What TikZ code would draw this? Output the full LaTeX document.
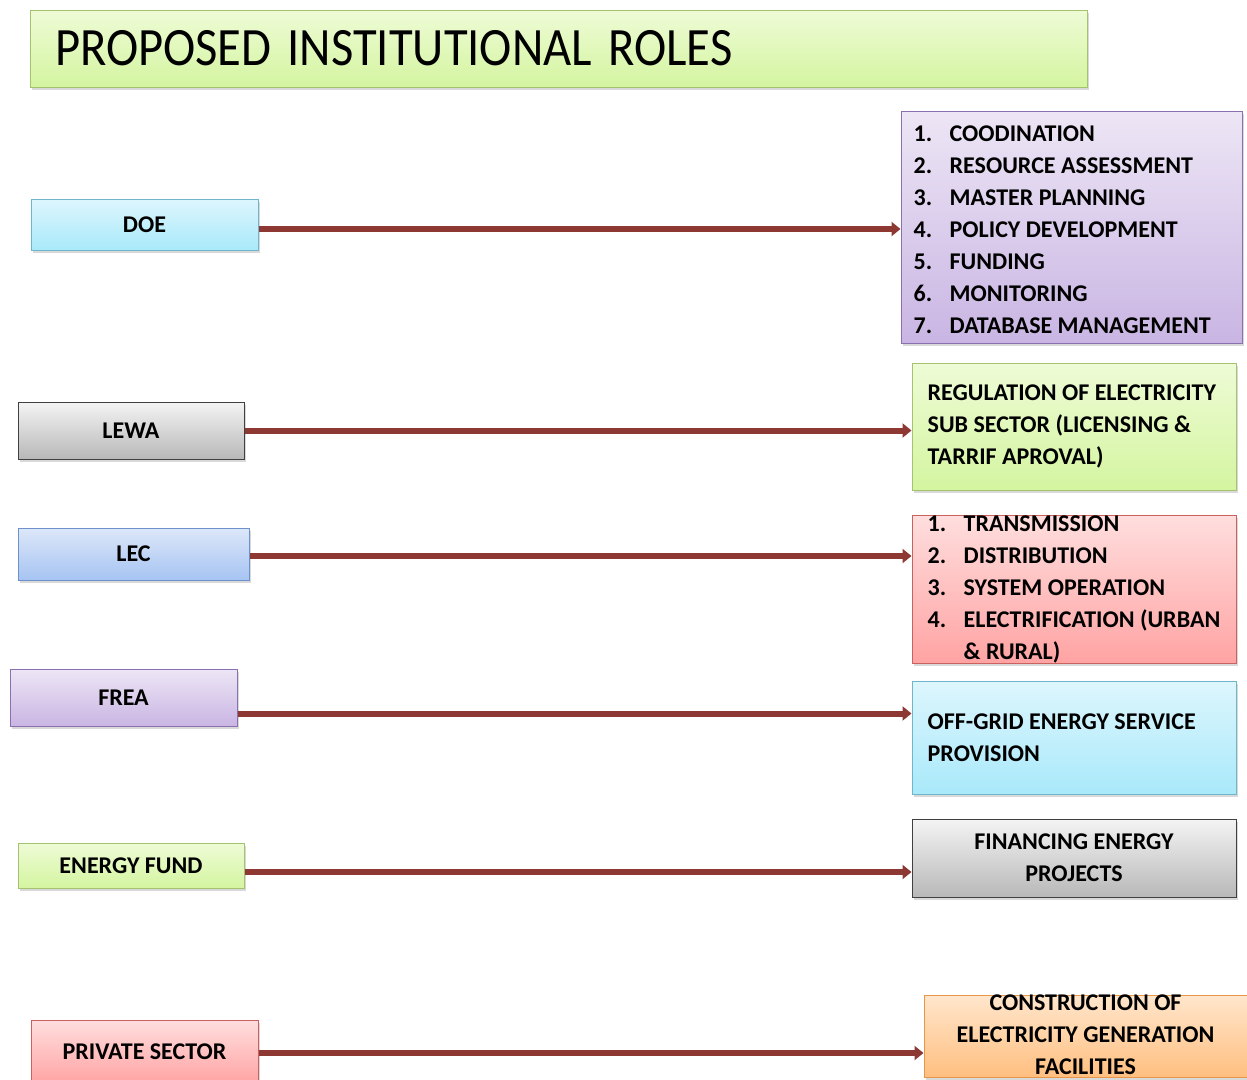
\documentclass[tikz,border=0pt]{standalone}
\usepackage{fontspec}
\setmainfont{Carlito}
\usetikzlibrary{arrows.meta,shadows,positioning}

\definecolor{linkred}{RGB}{142,56,52}
\definecolor{greentop}{HTML}{EEFBD6}\definecolor{greenbot}{HTML}{D4F5A0}\definecolor{greenline}{HTML}{A5C26E}
\definecolor{cyantop}{HTML}{DDF6FD}\definecolor{cyanbot}{HTML}{A9E9FA}\definecolor{cyanline}{HTML}{6FB5CC}
\definecolor{graytop}{HTML}{F4F4F4}\definecolor{graybot}{HTML}{B8B8B8}\definecolor{grayline}{HTML}{404040}
\definecolor{bluetop}{HTML}{DCE7F9}\definecolor{bluebot}{HTML}{A7C4F2}\definecolor{blueline}{HTML}{6F91CB}
\definecolor{lavtop}{HTML}{EDE6F5}\definecolor{lavbot}{HTML}{C9B5E3}\definecolor{lavline}{HTML}{8A70AE}
\definecolor{pinktop}{HTML}{FFDEDE}\definecolor{pinkbot}{HTML}{FFA3A3}\definecolor{pinkline}{HTML}{C9625F}
\definecolor{orangetop}{HTML}{FFE6CC}\definecolor{orangebot}{HTML}{FFBF80}\definecolor{orangeline}{HTML}{E8964A}

\newcommand{\numline}[2]{\makebox[36pt][l]{#1.}#2}

\tikzset{
  box/.style={line width=1pt, inner sep=0pt,
    drop shadow={opacity=0.3,shadow xshift=2pt,shadow yshift=-3pt},
    font=\bfseries\fontsize{24}{32}\selectfont},
  greenbox/.style={box, draw=greenline, top color=greentop, bottom color=greenbot},
  cyanbox/.style={box, draw=cyanline, top color=cyantop, bottom color=cyanbot},
  graybox/.style={box, draw=grayline, top color=graytop, bottom color=graybot},
  bluebox/.style={box, draw=blueline, top color=bluetop, bottom color=bluebot},
  lavbox/.style={box, draw=lavline, top color=lavtop, bottom color=lavbot},
  pinkbox/.style={box, draw=pinkline, top color=pinktop, bottom color=pinkbot},
  orangebox/.style={box, draw=orangeline, top color=orangetop, bottom color=orangebot},
  roletext/.style={inner sep=0pt, align=left, font=\bfseries\fontsize{24}{32}\selectfont},
  link/.style={linkred, line width=6pt, -{Triangle[length=9pt,width=14pt]}}
}

\begin{document}
\begin{tikzpicture}[x=1pt,y=-1pt]
\useasboundingbox (0,0) rectangle (1247,1079);
% Title
\node[greenbox, minimum width=1057, minimum height=77, inner xsep=25pt, text width=1007pt,
  align=left, font=\fontsize{54}{60}\selectfont] (title) at (558.5,48.5)
  {\scalebox{0.9}[1]{PROPOSED INSTITUTIONAL ROLES}};
% DOE
\node[cyanbox, minimum width=227, minimum height=51] (doe) at (144.5,224.5) {DOE};
\node[lavbox, minimum width=341, minimum height=232] (doeroles) at (1071.5,227) {};
\node[roletext, anchor=west] (doetext) at ([xshift=13pt,yshift=-3pt]doeroles.west) {%
  \numline{1}{COODINATION}\\ \numline{2}{RESOURCE ASSESSMENT}\\ \numline{3}{MASTER PLANNING}\\
  \numline{4}{POLICY DEVELOPMENT}\\ \numline{5}{FUNDING}\\ \numline{6}{MONITORING}\\
  \numline{7}{DATABASE MANAGEMENT}};
\draw[link] ([yshift=-4.5pt]doe.east) -- ([yshift=-4.5pt]doe.east -| doeroles.west);
% LEWA
\node[graybox, minimum width=226, minimum height=57] (lewa) at (131,430.5) {LEWA};
\node[greenbox, minimum width=324, minimum height=127] (lewarole) at (1074,426.5) {};
\node[roletext, anchor=west] (lewatext) at ([xshift=16pt]lewarole.west) {%
  REGULATION OF ELECTRICITY\\ SUB SECTOR (LICENSING \&\\ TARRIF APROVAL)};
\draw[link] (lewa.east) -- (lewa.east -| lewarole.west);
% LEC
\node[bluebox, minimum width=231, minimum height=52] (lec) at (133.5,554) {LEC};
\node[pinkbox, minimum width=324, minimum height=148] (lecrole) at (1074,589) {};
\node[roletext, anchor=west] (lectext) at ([xshift=16pt]lecrole.west) {%
  \numline{1}{TRANSMISSION}\\ \numline{2}{DISTRIBUTION}\\ \numline{3}{SYSTEM OPERATION}\\
  \numline{4}{ELECTRIFICATION (URBAN}\\ \hspace*{36pt}\& RURAL)};
\draw[link] ([yshift=-2pt]lec.east) -- ([yshift=-2pt]lec.east -| lecrole.west);
% FREA
\node[lavbox, minimum width=227, minimum height=57] (frea) at (123.5,697.5) {FREA};
\node[cyanbox, minimum width=324, minimum height=113] (frearole) at (1074,737.5) {};
\node[roletext, anchor=west] (freatext) at ([xshift=16pt]frearole.west) {%
  OFF-GRID ENERGY SERVICE\\ PROVISION};
\draw[link] ([yshift=-16pt]frea.east) -- ([yshift=-16pt]frea.east -| frearole.west);
% Energy fund
\node[greenbox, minimum width=226, minimum height=45] (fund) at (131,865.5) {ENERGY FUND};
\node[graybox, minimum width=324, minimum height=78] (fundrole) at (1074,858) {};
\node[roletext, align=center] (fundtext) at (fundrole.center) {FINANCING ENERGY\\ PROJECTS};
\draw[link] ([yshift=-6.5pt]fund.east) -- ([yshift=-6.5pt]fund.east -| fundrole.west);
% Private sector
\node[pinkbox, minimum width=227, minimum height=64] (private) at (144.5,1052) {PRIVATE SECTOR};
\node[orangebox, minimum width=323, minimum height=82] (privaterole) at (1085.5,1036) {};
\node[roletext, align=center] (privatetext) at ([yshift=1.5pt]privaterole.center) {%
  CONSTRUCTION OF\\ ELECTRICITY GENERATION\\ FACILITIES};
\draw[link] ([yshift=-1pt]private.east) -- ([yshift=-1pt]private.east -| privaterole.west);
\end{tikzpicture}
\end{document}
